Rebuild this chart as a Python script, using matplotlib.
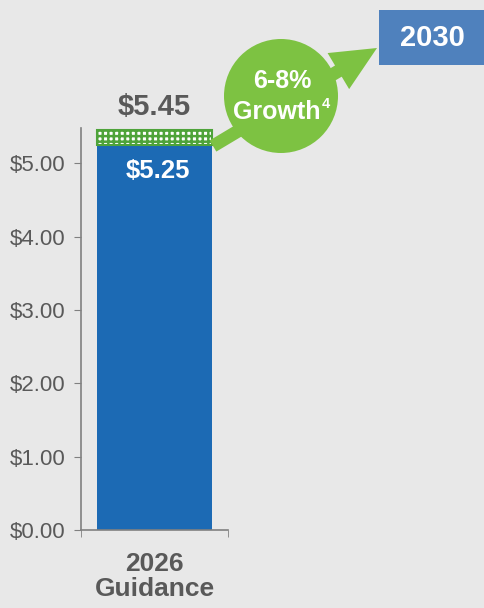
import matplotlib
matplotlib.use('Agg')
from matplotlib import pyplot as plt
from matplotlib.patches import Circle, Rectangle, FancyArrow

plt.rcParams['font.family'] = ['Liberation Sans', 'DejaVu Sans']
plt.rcParams['hatch.color'] = '#4ea33a'
plt.rcParams['hatch.linewidth'] = 1.8

categories = ['2026\nGuidance']
base_vals = [5.25]
top_vals = [5.45]
yticks = [0, 1, 2, 3, 4, 5]
ytick_labels = ['$0.00', '$1.00', '$2.00', '$3.00', '$4.00', '$5.00']

bg = '#e8e8e8'
blue = '#1c6ab4'
green = '#7dc242'
dark = '#595959'

fig = plt.figure(figsize=(4.85, 6.08), dpi=100, facecolor=bg)
ax = fig.add_axes([81/485, 78/608, 147/485, 402/608])
ax.set_facecolor(bg)

x = list(range(len(categories)))
ax.bar(x, base_vals, width=0.78, color=blue, zorder=2, align='center')
ax.bar(x, [t - b for t, b in zip(top_vals, base_vals)], bottom=base_vals, width=0.78,
       color='white', edgecolor='#4ea33a', hatch='+++', linewidth=1.5, zorder=2)

for xi, b, t in zip(x, base_vals, top_vals):
    ax.text(xi, t + 0.12, '${:.2f}'.format(t), ha='center', va='bottom',
            fontsize=21, fontweight='bold', color=dark)
    ax.text(xi + 0.02, b - 0.19, '${:.2f}'.format(b), ha='center', va='top',
            fontsize=18.5, fontweight='bold', color='white', zorder=3)

ax.set_xlim(-0.5, 0.5)
ax.set_ylim(0, 5.48)
ax.set_yticks(yticks)
ax.set_yticklabels(ytick_labels, fontsize=16, color=dark)
ax.set_xticks(x)
ax.set_xticklabels(categories, fontsize=19, fontweight='bold', color=dark, linespacing=1.05)
ax.set_xticks([-0.5, 0.5], minor=True)
ax.tick_params(axis='x', which='major', length=0, pad=16)
ax.tick_params(axis='x', which='minor', length=5, direction='out', color='#808080')
ax.tick_params(axis='y', length=5, direction='out', color='#808080', pad=6)
for s in ['top', 'right']:
    ax.spines[s].set_visible(False)
for s in ['left', 'bottom']:
    ax.spines[s].set_color('#808080')
    ax.spines[s].set_linewidth(1.2)

# overlay in pixel coordinates for arrow, circle and 2030 box
ov = fig.add_axes([0, 0, 1, 1], facecolor='none')
ov.set_xlim(0, 485)
ov.set_ylim(608, 0)
ov.axis('off')

ov.add_patch(FancyArrow(213, 146, 164, -98, width=13, head_width=42,
                        head_length=45, length_includes_head=True,
                        color=green, linewidth=0))
ov.add_patch(Circle((281, 96), 57, color=green, linewidth=0))
ov.text(282, 81, '6-8%', ha='center', va='center', fontsize=18, fontweight='bold', color='white')
ov.text(277, 112, 'Growth', ha='center', va='center', fontsize=18, fontweight='bold', color='white')
ov.text(322, 104, '4', ha='left', va='center', fontsize=10.5, fontweight='bold', color='white')

ov.add_patch(Rectangle((379, 10), 106, 55, color='#4f81bd', linewidth=0))
ov.text(432, 38, '2030', ha='center', va='center', fontsize=21, fontweight='bold', color='white')

fig.savefig('out.png', dpi=100, facecolor=bg)
